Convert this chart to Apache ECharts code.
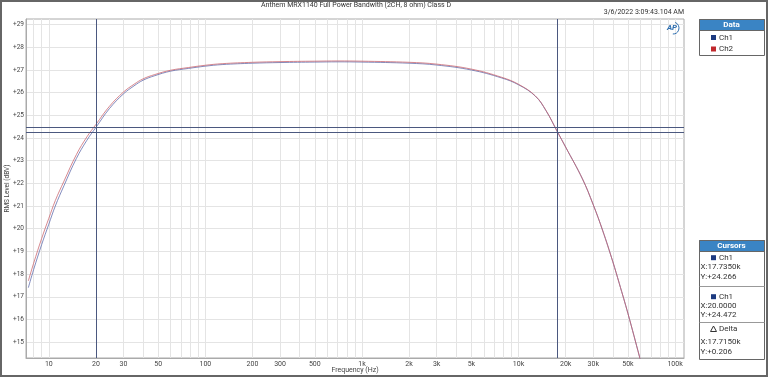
<!DOCTYPE html>
<html><head><meta charset="utf-8">
<script src="https://cdn.jsdelivr.net/npm/echarts@6/dist/echarts.min.js"></script>
<style>html,body{margin:0;padding:0;background:#fff}#c{width:768px;height:377px}</style>
</head><body><div id="c"></div>
<script>
// ---- data ----
const freqs = [7.4, 8, 9, 10, 11, 12.5, 15, 17.5, 20, 24.4, 30, 35, 40, 47.5, 60, 78, 100, 128, 200, 300, 500, 700, 1000, 2000, 3000, 5000, 7800, 10000, 12800, 15000, 17735, 20000, 25600, 30000, 34400, 40000, 44000, 50000, 59300, 62000];
const ch1 = [17.4, 18.2, 19.3, 20.2, 21.0, 21.9, 23.1, 23.9, 24.47, 25.3, 25.95, 26.3, 26.55, 26.75, 26.95, 27.07, 27.17, 27.24, 27.3, 27.33, 27.35, 27.36, 27.35, 27.3, 27.22, 27.0, 26.65, 26.35, 25.85, 25.2, 24.27, 23.6, 22.2, 21.06, 19.94, 18.55, 17.59, 16.26, 14.35, 13.84];
const ch2 = [17.7, 18.48, 19.57, 20.46, 21.24, 22.1, 23.27, 24.05, 24.6, 25.4, 26.03, 26.37, 26.61, 26.8, 26.99, 27.11, 27.21, 27.28, 27.34, 27.37, 27.39, 27.4, 27.39, 27.34, 27.26, 27.04, 26.68, 26.37, 25.86, 25.21, 24.27, 23.6, 22.2, 21.06, 19.94, 18.55, 17.59, 16.26, 14.35, 13.84];
const xLabelTicks = [10, 20, 30, 50, 100, 200, 300, 500, 1000, 2000, 3000, 5000, 10000, 20000, 30000, 50000, 100000];
const xGridTicks = [8, 9, 10, 20, 30, 40, 50, 60, 70, 80, 90, 100, 200, 300, 400, 500, 600, 700, 800, 900, 1000, 2000, 3000, 4000, 5000, 6000, 7000, 8000, 9000, 10000, 20000, 30000, 40000, 50000, 60000, 70000, 80000, 90000, 100000];
const yTicks = [15, 16, 17, 18, 19, 20, 21, 22, 23, 24, 25, 26, 27, 28, 29];
const cursorX = [17735, 20];
const cursorY = [24.266, 24.472];
const titleText = 'Anthem MRX1140 Full Power Bandwith (2CH, 8 ohm) Class D';
const dateText = '3/6/2022 3:09:43.104 AM';
const cursorRows = ['X:17.7350k', 'Y:+24.266', 'X:20.0000', 'Y:+24.472', 'X:17.7150k', 'Y:+0.206'];

const FONT = '"Liberation Sans Narrow","Roboto","Liberation Sans",sans-serif';
const TXT = '#444';
const chart = echarts.init(document.getElementById('c'), null, {renderer: 'canvas'});

function pairs(ys) { return freqs.map((f, i) => [f, ys[i]]); }
function fmtX(v) { return v >= 1000 ? (v / 1000) + 'k' : String(v); }

const PX = 699, PW = 65, HDR = '#3a84c4';
function txt(x, y, s, opt) {
  return {type: 'text', x: x, y: y, z: 100, style: Object.assign({text: s, fill: '#333', font: '8px ' + FONT, verticalAlign: 'middle', align: 'left'}, opt || {})};
}
const graphics = [
  {type: 'rect', shape: {x: 1, y: 1, width: 766, height: 375}, style: {fill: 'none', stroke: '#666', lineWidth: 2}, z: 100},
  // Data panel
  {type: 'rect', shape: {x: PX + 0.5, y: 19.5, width: PW, height: 36}, style: {fill: '#fff', stroke: '#666', lineWidth: 1}, z: 99},
  {type: 'rect', shape: {x: PX + 0.5, y: 19.5, width: PW, height: 11}, style: {fill: HDR, stroke: '#666', lineWidth: 1}, z: 100},
  txt(PX + PW / 2, 25, 'Data', {fill: '#fff', align: 'center', font: 'bold 8px ' + FONT}),
  {type: 'rect', shape: {x: 711, y: 35, width: 5, height: 5}, style: {fill: '#1c3a80'}, z: 100},
  txt(719, 37.7, 'Ch1'),
  {type: 'rect', shape: {x: 711, y: 46.5, width: 5, height: 5}, style: {fill: '#c0282d'}, z: 100},
  txt(719, 49, 'Ch2'),
  // Cursor panel
  {type: 'rect', shape: {x: PX + 0.5, y: 240.5, width: PW, height: 119}, style: {fill: '#fff', stroke: '#666', lineWidth: 1}, z: 99},
  {type: 'rect', shape: {x: PX + 0.5, y: 240.5, width: PW, height: 11}, style: {fill: HDR, stroke: '#666', lineWidth: 1}, z: 100},
  txt(PX + PW / 2, 246, 'Cursors', {fill: '#fff', align: 'center', font: 'bold 8px ' + FONT}),
  {type: 'rect', shape: {x: 711, y: 255.2, width: 5, height: 5}, style: {fill: '#1c3a80'}, z: 100},
  txt(719, 257.7, 'Ch1'),
  txt(700.5, 267.3, cursorRows[0]),
  txt(700.5, 276.7, cursorRows[1]),
  {type: 'line', shape: {x1: PX + 0.5, y1: 286.5, x2: PX + PW + 0.5, y2: 286.5}, style: {stroke: '#999', lineWidth: 1}, z: 100},
  {type: 'rect', shape: {x: 711, y: 294.2, width: 5, height: 5}, style: {fill: '#1c3a80'}, z: 100},
  txt(719, 296.7, 'Ch1'),
  txt(700.5, 305.7, cursorRows[2]),
  txt(700.5, 315, cursorRows[3]),
  {type: 'line', shape: {x1: PX + 0.5, y1: 322.5, x2: PX + PW + 0.5, y2: 322.5}, style: {stroke: '#999', lineWidth: 1}, z: 100},
  {type: 'polygon', shape: {points: [[713.5, 326], [710.5, 331.5], [716.5, 331.5]]}, style: {fill: 'none', stroke: '#333', lineWidth: 1}, z: 100},
  txt(719, 329, 'Delta'),
  txt(700.5, 341.7, cursorRows[4]),
  txt(700.5, 351.7, cursorRows[5]),
  // AP logo
  txt(672, 28, 'AP', {fill: '#2f6fb0', align: 'center', font: 'italic bold 8px ' + FONT}),
  {type: 'arc', shape: {cx: 673, cy: 28, r: 6, startAngle: -1.2, endAngle: 1.6}, style: {fill: 'none', stroke: '#2f6fb0', lineWidth: 1}, z: 100}
];

const option = {
  animation: false,
  backgroundColor: '#fff',
  title: [
    {text: titleText, left: 356, top: 2, padding: 0, textAlign: 'center', textStyle: {fontSize: 7, fontWeight: 'normal', color: '#333', fontFamily: FONT}},
    {text: dateText, right: 84, top: 9, padding: 0, textStyle: {fontSize: 7, fontWeight: 'normal', color: '#333', fontFamily: FONT}}
  ],
  grid: {left: 26, top: 19, right: 84, bottom: 19, outerBoundsMode: 'none', containLabel: false, show: true, borderColor: '#aaa', borderWidth: 1, backgroundColor: '#fff'},
  xAxis: {
    type: 'log', logBase: 10, min: 7.15, max: 114000,
    name: 'Frequency (Hz)', nameLocation: 'middle', nameGap: 9, nameMoveOverlap: false,
    nameTextStyle: {fontSize: 7, color: TXT, fontFamily: FONT},
    axisLine: {show: true, lineStyle: {color: '#aaa'}},
    axisTick: {show: false, customValues: xGridTicks},
    axisLabel: {customValues: xLabelTicks, formatter: fmtX, fontSize: 7, color: TXT, fontFamily: FONT, margin: 3},
    splitLine: {show: true, lineStyle: {color: '#e4e4e4', width: 1}},
    minorSplitLine: {show: false}
  },
  yAxis: {
    type: 'value', min: 14.3, max: 29.25,
    name: 'RMS Level (dBV)', nameLocation: 'middle', nameGap: 15, nameMoveOverlap: false,
    nameTextStyle: {fontSize: 6.5, color: TXT, fontFamily: FONT},
    axisLine: {show: true, lineStyle: {color: '#aaa'}},
    axisTick: {show: false, customValues: yTicks},
    axisLabel: {customValues: yTicks, formatter: v => '+' + v, fontSize: 6.5, color: TXT, fontFamily: FONT, margin: 2},
    splitLine: {show: true, lineStyle: {color: '#e4e4e4', width: 1}}
  },
  series: [
    {
      name: 'Ch1', type: 'line', data: pairs(ch1), smooth: 0.4, symbol: 'none', clip: true,
      lineStyle: {color: '#5a66a8', width: 1, opacity: 0.75},
      markLine: {
        silent: true, symbol: 'none', label: {show: false}, animation: false,
        lineStyle: {color: '#4b587f', width: 1, type: 'solid'},
        data: [{xAxis: cursorX[0]}, {xAxis: cursorX[1]}, {yAxis: cursorY[0]}, {yAxis: cursorY[1]}]
      }
    },
    {
      name: 'Ch2', type: 'line', data: pairs(ch2), smooth: 0.4, symbol: 'none', clip: true,
      lineStyle: {color: '#c8606a', width: 1, opacity: 0.75}
    }
  ],
  graphic: graphics
};
chart.setOption(option);
</script>
</body></html>
